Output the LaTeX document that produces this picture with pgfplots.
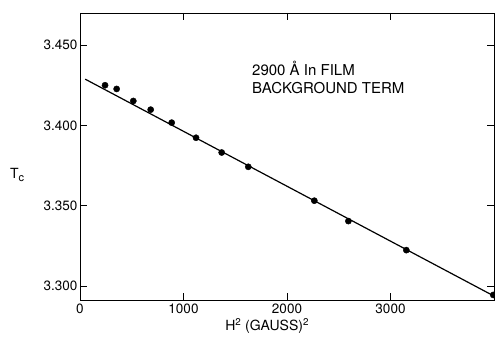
\documentclass[border=0pt]{standalone}
\usepackage{pgfplots}
\pgfplotsset{compat=1.18}
\usepackage{fontspec}
\setmainfont{TeX Gyre Heros}
\begin{document}
\begin{tikzpicture}
\begin{axis}[
  scale only axis, width=414pt, height=287pt,
  xmin=0, xmax=4000, ymin=3.29125, ymax=3.470,
  xtick={0,1000,2000,3000}, xticklabels={0,1000,2000,3000},
  ytick={3.300,3.350,3.400,3.450}, yticklabels={3.300,3.350,3.400,3.450},
  tick align=inside, major tick length=7pt,
  tick label style={font=\fontsize{13.5}{14}\selectfont},
  xticklabel style={inner sep=1pt, yshift=-3pt},
  yticklabel style={xshift=1pt},
  /pgf/number format/assume math mode=true,
  axis line style={line width=0.9pt},
  every tick/.style={black, line width=0.8pt},
  clip=false,
]
\coordinate (o) at (rel axis cs:0,0);
\addplot[no marks, line width=1.2pt] coordinates {(50,3.4288) (4000,3.2937)};
\addplot[only marks, mark=*, mark size=3.1pt] coordinates {
(242,3.4250) (354,3.4227) (515,3.4152) (683,3.4098) (886,3.4017)
(1121,3.3923) (1369,3.3831) (1626,3.3742) (2264,3.3531) (2593,3.3404)
(3153,3.3223) (3993,3.2944)};
\node[anchor=west, align=left, font=\fontsize{15}{18}\selectfont, inner sep=0pt]
  at (axis cs:1662,3.430) {2900 Å In FILM\\BACKGROUND TERM};
\node[font=\fontsize{14}{14}\selectfont] at (rel axis cs:-0.152,0.435) {T\raisebox{-0.45ex}{\fontsize{11}{11}\selectfont c}};
\node[font=\fontsize{14}{14}\selectfont, inner sep=1pt] at (rel axis cs:0.452,-0.090) {H\textsuperscript{2} (GAUSS)\textsuperscript{2}};
\end{axis}
\pgfresetboundingbox
\path (o) ++(-80pt,-39pt) rectangle ++(495pt,339pt);
\end{tikzpicture}
\end{document}
